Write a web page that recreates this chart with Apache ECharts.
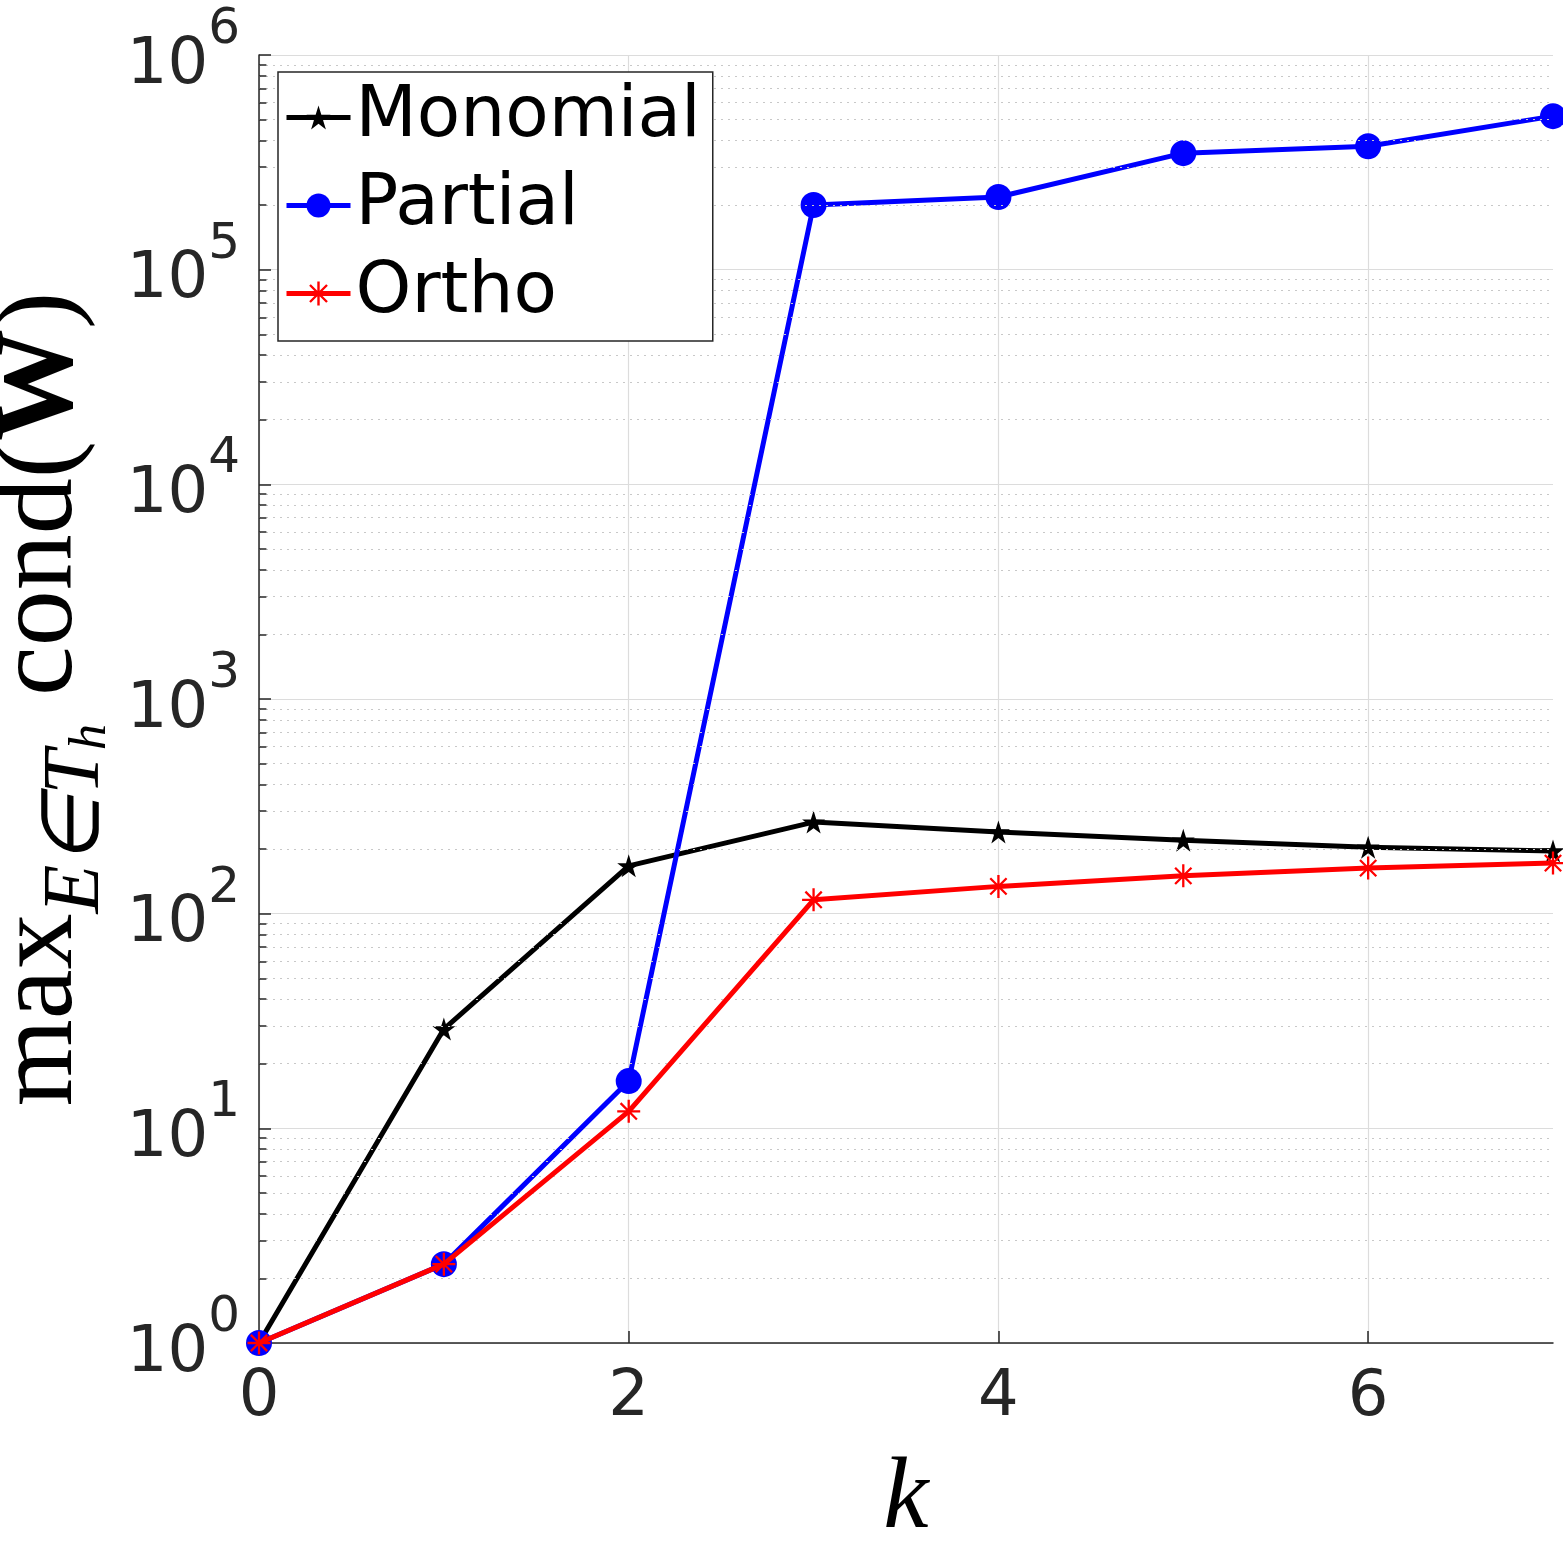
<!DOCTYPE html>
<html><head><meta charset="utf-8">
<script src="https://cdn.jsdelivr.net/npm/echarts@6/dist/echarts.min.js"></script>
<style>html,body{margin:0;padding:0;background:#fff}#c{width:1563px;height:1563px}</style>
</head><body><div id="c"></div>
<script>
var kValues = [0, 1, 2, 3, 4, 5, 6, 7];
var monomial = [1, 29, 167, 267, 240, 220, 204, 196];
var partial = [1, 2.33, 16.6, 2.0e5, 2.18e5, 3.49e5, 3.76e5, 5.19e5];
var ortho = [1, 2.33, 12.0, 116, 134, 150, 163, 172];
var seriesNames = ['Monomial', 'Partial', 'Ortho'];
var xTicks = [0, 2, 4, 6];

function pairs(ys) { return kValues.map(function (k, i) { return [k, ys[i]]; }); }

var minorVals = [];
for (var e = 0; e < 6; e++) for (var m = 2; m <= 9; m++) minorVals.push(m * Math.pow(10, e));

var starPath = 'path://M10 0 L12.25 6.91 L19.51 6.91 L13.63 11.18 L15.88 18.09 L10 13.82 L4.12 18.09 L6.37 11.18 L0.49 6.91 L7.75 6.91 Z';
var astPath = 'path://M9 0 L11 0 L11 20 L9 20 Z M0 9 L20 9 L20 11 L0 11 Z M3.6 2.2 L17.8 16.4 L16.4 17.8 L2.2 3.6 Z M16.4 2.2 L17.8 3.6 L3.6 17.8 L2.2 16.4 Z';

var chart = echarts.init(document.getElementById('c'));
chart.setOption({
  animation: false,
  backgroundColor: '#fff',
  grid: { left: 259, right: 10, top: 55, bottom: 220, containLabel: false, outerBoundsMode: 'none' },
  legend: {
    data: seriesNames,
    orient: 'vertical',
    left: 278, top: 72,
    padding: [8, 12, 10, 6],
    itemWidth: 64, itemHeight: 30, itemGap: 13,
    borderColor: '#262626', borderWidth: 1.5,
    backgroundColor: '#fff',
    z: 10,
    lineStyle: { width: 5, type: 'solid' },
    textStyle: { fontFamily: 'DejaVu Sans', fontSize: 71, color: '#000', lineHeight: 75 }
  },
  xAxis: {
    type: 'value', min: 0, max: 7, interval: 1,
    axisLine: { lineStyle: { color: '#262626', width: 1.5 } },
    axisTick: { inside: true, length: 12, lineStyle: { color: '#262626', width: 1.5 },
      customValues: xTicks },
    axisLabel: { fontFamily: 'DejaVu Sans', fontSize: 64, color: '#262626', margin: 23,
      customValues: xTicks },
    splitLine: { show: true, lineStyle: { color: '#dcdcdc', width: 1.2 } },
    name: 'k', nameLocation: 'middle', nameGap: 106, nameMoveOverlap: false,
    nameTextStyle: { fontFamily: 'Liberation Serif', fontStyle: 'italic', fontSize: 102, color: '#000', lineHeight: 102 }
  },
  yAxis: {
    type: 'log', logBase: 10, min: 1, max: 1e6, interval: 1,
    axisLine: { show: true, lineStyle: { color: '#262626', width: 1.5 } },
    axisTick: { show: true, inside: true, length: 12, lineStyle: { color: '#262626', width: 1.5 } },
    axisLabel: {
      margin: 19,
      formatter: function (v) { return '{a|10}{b|' + Math.round(Math.log10(v)) + '}'; },
      rich: {
        a: { fontFamily: 'DejaVu Sans', fontSize: 64, color: '#262626', lineHeight: 100, padding: [22, 0, 0, 0] },
        b: { fontFamily: 'DejaVu Sans', fontSize: 50, color: '#262626', lineHeight: 50, verticalAlign: 'top' }
      }
    },
    splitLine: { show: true, lineStyle: { color: '#dcdcdc', width: 1.2 } },
    name: '{m|max}{s|E\u2208T}{h|h}{c| cond(}{w|W}{c|)}',
    nameLocation: 'middle', nameRotate: 90, nameGap: 142, nameMoveOverlap: false,
    nameTextStyle: {
      rich: {
        m: { fontFamily: 'Liberation Serif', fontSize: 112, color: '#000', lineHeight: 150 },
        s: { fontFamily: 'Liberation Serif', fontStyle: 'italic', fontSize: 80, color: '#000', lineHeight: 80, verticalAlign: 'bottom' },
        h: { fontFamily: 'Liberation Serif', fontStyle: 'italic', fontSize: 52, color: '#000', lineHeight: 52, verticalAlign: 'bottom' },
        c: { fontFamily: 'Liberation Serif', fontSize: 112, color: '#000', lineHeight: 150 },
        w: { fontFamily: 'Liberation Serif', fontWeight: 'bold', fontSize: 112, color: '#000', lineHeight: 150 }
      }
    }
  },
  series: [
    {
      name: 'minor', type: 'line', data: [], silent: true, z: 1,
      markLine: {
        silent: true, symbol: ['none', 'none'], animation: false,
        label: { show: false },
        lineStyle: { color: '#c8c8c8', type: [2, 5], width: 1.2 },
        data: minorVals.map(function (v) { return { yAxis: v }; })
      }
    },
    {
      name: 'minorTicks', type: 'line', data: [], silent: true, z: 1,
      markLine: {
        silent: true, symbol: ['none', 'none'], animation: false,
        label: { show: false },
        lineStyle: { color: '#262626', type: 'solid', width: 1.5 },
        data: minorVals.map(function (v) { return [{ coord: [0, v] }, { coord: [0.04, v] }]; })
      }
    },
    {
      name: 'Monomial', type: 'line', data: pairs(monomial), z: 3,
      symbol: starPath, symbolSize: 23, clip: false,
      itemStyle: { color: '#000' }, lineStyle: { color: '#000', width: 5, type: 'solid' }
    },
    {
      name: 'Partial', type: 'line', data: pairs(partial), z: 4,
      symbol: 'circle', symbolSize: 26, clip: false,
      itemStyle: { color: '#0000ff' }, lineStyle: { color: '#0000ff', width: 5, type: 'solid' }
    },
    {
      name: 'Ortho', type: 'line', data: pairs(ortho), z: 5,
      symbol: astPath, symbolSize: 23, clip: false,
      itemStyle: { color: '#ff0000' }, lineStyle: { color: '#ff0000', width: 5, type: 'solid' }
    }
  ]
});
</script></body></html>
